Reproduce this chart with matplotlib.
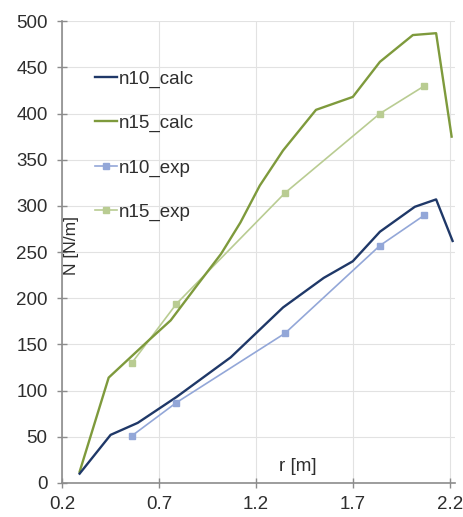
import matplotlib
matplotlib.use('Agg')
import matplotlib.pyplot as plt

# ---- data ----
r_n10_calc = [0.29, 0.45, 0.59, 0.79, 1.07, 1.34, 1.55, 1.70, 1.84, 2.02, 2.13, 2.215]
N_n10_calc = [10, 52, 65, 93, 136, 190, 222, 240, 272, 299, 307, 262]

r_n15_calc = [0.29, 0.44, 0.65, 0.76, 0.90, 1.02, 1.12, 1.22, 1.34, 1.51, 1.70, 1.84, 2.01, 2.13, 2.21]
N_n15_calc = [12, 114, 155, 176, 215, 248, 282, 322, 360, 404, 418, 456, 485, 487, 375]

r_n10_exp = [0.56, 0.79, 1.35, 1.84, 2.07]
N_n10_exp = [51, 87, 162, 257, 290]

r_n15_exp = [0.56, 0.79, 1.35, 1.84, 2.07]
N_n15_exp = [130, 194, 314, 400, 430]

plt.rcParams['font.family'] = ['Liberation Sans', 'DejaVu Sans']

fig = plt.figure(figsize=(4.64, 5.17), dpi=100)
ax = fig.add_axes([0.134, 0.066, 0.846, 0.893])

ax.plot(r_n10_calc, N_n10_calc, color='#1f3868', lw=1.7, label='n10_calc', zorder=4)
ax.plot(r_n15_calc, N_n15_calc, color='#7e9a3c', lw=1.7, label='n15_calc', zorder=3)
ax.plot(r_n10_exp, N_n10_exp, color='#93a7d8', lw=1.2, marker='s', ms=4,
        label='n10_exp', zorder=5)
ax.plot(r_n15_exp, N_n15_exp, color='#b9cc92', lw=1.2, marker='s', ms=4,
        label='n15_exp', zorder=2)

ax.set_xlim(0.2, 2.226)
ax.set_ylim(0, 500)
ax.set_xticks([0.2, 0.7, 1.2, 1.7, 2.2])
ax.set_xticklabels(['0.2', '0.7', '1.2', '1.7', '2.2'])
ax.set_yticks(range(0, 501, 50))
ax.grid(True, color='#e2e2e2', lw=0.8)
ax.set_axisbelow(True)

for s in ['top', 'right']:
    ax.spines[s].set_visible(False)
for s in ['left', 'bottom']:
    ax.spines[s].set_color('#8c8c8c')
    ax.spines[s].set_linewidth(1.2)
ax.tick_params(axis='both', colors='#8c8c8c', labelcolor='#2e2e2e',
               labelsize=13.5, length=7, width=1.0, direction='inout')
ax.tick_params(axis='y', pad=7)
ax.tick_params(axis='x', pad=6)

ax.text(0.024, 0.515, 'N [N/m]', transform=ax.transAxes, rotation=90,
        ha='center', va='center', fontsize=12.5, color='#2e2e2e')
ax.text(0.60, 0.035, 'r [m]', transform=ax.transAxes,
        ha='center', va='center', fontsize=13.5, color='#2e2e2e')

ax.legend(loc='upper left', bbox_to_anchor=(0.04, 0.93), frameon=False,
          fontsize=13.5, handlelength=1.2, handletextpad=0.1,
          labelspacing=1.45, labelcolor='#2e2e2e')

plt.savefig('out.png', dpi=100)
plt.close()
